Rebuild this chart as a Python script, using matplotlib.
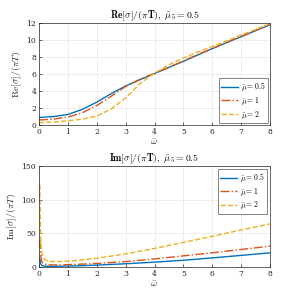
import matplotlib
matplotlib.use("Agg")
import matplotlib.pyplot as plt
import numpy as np

plt.rcParams['mathtext.fontset'] = 'cm'
plt.rcParams['font.family'] = ['DejaVu Serif']

# Re[sigma]/(pi T)
w_re = [0, 0.5, 1, 1.5, 2, 2.5, 3, 3.5, 4, 4.5, 5, 5.5, 6, 6.5, 7, 7.5, 8]
re_05 = [0.9, 1.0, 1.25, 1.85, 2.7, 3.7, 4.6, 5.35, 6.05, 6.8, 7.5, 8.25, 9.0, 9.7, 10.4, 11.1, 11.8]
re_1 = [0.6, 0.7, 0.95, 1.45, 2.3, 3.4, 4.55, 5.4, 6.1, 6.8, 7.55, 8.3, 9.0, 9.75, 10.45, 11.15, 11.85]
re_2 = [0.3, 0.35, 0.5, 0.7, 1.05, 1.9, 3.2, 4.9, 6.1, 7.1, 7.9, 8.6, 9.25, 9.9, 10.6, 11.25, 11.95]

# Im[sigma]/(pi T)
w_im = [0.03, 0.05, 0.08, 0.12, 0.2, 0.3, 0.5, 0.8, 1, 1.5, 2, 3, 4, 5, 6, 7, 8]
im_05 = [12, 6, 3, 1.8, 1.2, 1.0, 1.0, 1.2, 1.4, 2.0, 2.8, 4.8, 7.2, 10.0, 13.5, 17.2, 21.0]
im_1 = [40, 22, 11, 6.5, 4.2, 3.4, 3.0, 3.2, 3.5, 4.3, 5.3, 8.0, 12.0, 16.5, 21.0, 26.0, 31.0]
im_2 = [122, 60, 28, 16, 11, 9, 8, 8.2, 8.6, 10.5, 13.0, 19.5, 27.5, 36.5, 45.5, 55.0, 64.0]

labels = [r'$\bar{\mu}=0.5$', r'$\bar{\mu}=1$', r'$\bar{\mu}=2$']
colors = ['#0072BD', '#D95319', '#EDB120']
styles = ['-', '-.', '--']

fig = plt.figure(figsize=(3, 3), dpi=100)
ax1 = fig.add_axes([0.13, 0.583, 0.77, 0.34])
ax2 = fig.add_axes([0.13, 0.11, 0.77, 0.337])

for ax, w, ys in [(ax1, w_re, [re_05, re_1, re_2]), (ax2, w_im, [im_05, im_1, im_2])]:
    for y, c, s, l in zip(ys, colors, styles, labels):
        ax.plot(w, y, color=c, linestyle=s, lw=1.0, label=l)
    ax.set_xlim(0, 8)
    ax.set_xticks(range(0, 9))
    ax.grid(True, color='#e6e6e6', lw=0.5)
    ax.set_axisbelow(True)
    ax.tick_params(direction='in', labelsize=5.5, length=2, width=0.5, colors='#262626', pad=2)
    for sp in ax.spines.values():
        sp.set_color('#262626')
        sp.set_linewidth(0.5)
    ax.set_xlabel(r'$\bar{\omega}$', fontsize=7, labelpad=1, color='#262626')

ax1.set_ylim(0, 12)
ax1.set_yticks(range(0, 13, 2))
ax1.set_ylabel(r'$\mathrm{Re}[\sigma]/(\pi T)$', fontsize=7, labelpad=2, color='#262626')
ax1.set_title(r'$\mathbf{Re}[\sigma]/(\pi \mathbf{T}),\ \bar{\mu}_5=\mathbf{0.5}$', fontsize=7, pad=3)
leg1 = ax1.legend(loc='lower right', fontsize=5.5, frameon=True, fancybox=False, edgecolor='#262626',
                  handlelength=2.2, borderpad=0.3, labelspacing=0.2, handletextpad=0.4,
                  borderaxespad=0.3)
leg1.get_frame().set_linewidth(0.5)

ax2.set_ylim(0, 150)
ax2.set_yticks([0, 50, 100, 150])
ax2.set_ylabel(r'$\mathrm{Im}[\sigma]/(\pi T)$', fontsize=7, labelpad=2, color='#262626')
ax2.set_title(r'$\mathbf{Im}[\sigma]/(\pi \mathbf{T}),\ \bar{\mu}_5=\mathbf{0.5}$', fontsize=7, pad=3)
leg2 = ax2.legend(loc='upper right', fontsize=5.5, frameon=True, fancybox=False, edgecolor='#262626',
                  handlelength=2.2, borderpad=0.3, labelspacing=0.2, handletextpad=0.4,
                  borderaxespad=0.4)
leg2.get_frame().set_linewidth(0.5)

fig.savefig('out.png', dpi=100)
